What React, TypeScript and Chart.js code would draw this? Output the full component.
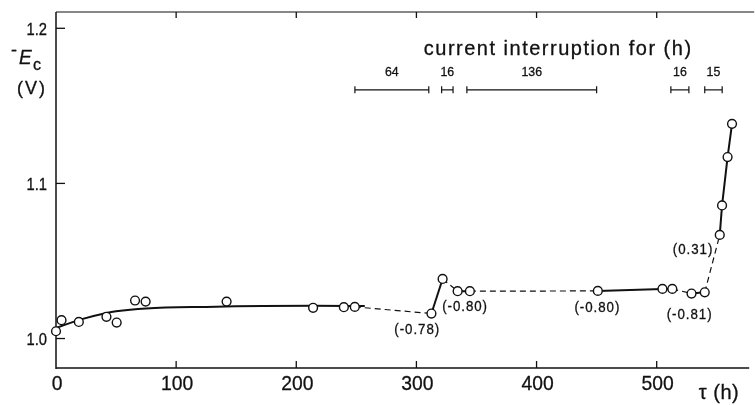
import React, { useEffect, useRef } from "react";
import { Chart, registerables } from "chart.js";

Chart.register(...registerables);

// measured points: time (h) and -E_c (V)
const tauH = [0, 4.6, 19, 42, 50.5, 65.8, 74.6, 142, 214, 239.6, 248.7, 312.5, 321.8, 334.3, 344.5, 451, 504.8, 513, 529, 540, 552.5, 554.4, 559, 562.7];
const minusEc = [1.0047, 1.0118, 1.0107, 1.014, 1.0103, 1.0245, 1.0238, 1.0238, 1.0198, 1.0202, 1.0204, 1.0161, 1.0384, 1.0305, 1.0305, 1.0307, 1.032, 1.032, 1.029, 1.0298, 1.0668, 1.0858, 1.117, 1.1384];

// smooth fitted curve over the first 250 h
const fitTau = [0, 20, 42, 50, 75, 125, 214, 257];
const fitE = [1.0068, 1.0122, 1.0165, 1.0176, 1.0194, 1.0204, 1.0211, 1.0209];

// connecting line from point index 10 onward; dashed = during current interruption
const linkStart = 10;
const linkDashed = [true, false, true, false, true, false, false, true, false, true, false, false, false];

// axes
const xTicks = [0, 100, 200, 300, 400, 500];
const xTickLabels = ["0", "100", "200", "300", "400", "500"];
const yTicks = [1.0, 1.1, 1.2];
const yTickLabels = ["1.0", "1.1", "1.2"];

// current interruption bars
const barFrom = [248.8, 321, 342, 511.8, 540];
const barTo = [310.3, 330.5, 450, 526.8, 554.5];
const barHours = ["64", "16", "136", "16", "15"];
const barLevel = 1.1603;
const barLabelLevel = 1.1713;
const headerText = "current interruption for (h)";
const headerTau = 418;
const headerLevel = 1.1861;

// potential notes
const noteTau = [300.7, 340.5, 450.6, 527.4, 530.3];
const noteE = [1.0052, 1.0203, 1.0199, 1.0151, 1.0573];
const noteText = ["(-0.78)", "(-0.80)", "(-0.80)", "(-0.81)", "(0.31)"];

const INK = "#111";
const FONT = "'Liberation Sans', Arial, sans-serif";

function txt(ctx: CanvasRenderingContext2D, s: string, x: number, y: number, size: number, align: CanvasTextAlign, sx = 1, spacing = 0, italic = false) {
  ctx.save();
  ctx.font = `${italic ? "italic " : ""}${size}px ${FONT}`;
  (ctx as any).letterSpacing = `${spacing}px`;
  ctx.textBaseline = "middle";
  ctx.fillStyle = INK;
  ctx.strokeStyle = INK;
  ctx.lineWidth = 0.3;
  ctx.translate(x, y);
  ctx.scale(sx, 1);
  ctx.textAlign = align;
  ctx.fillText(s, 0, 0);
  ctx.strokeText(s, 0, 0);
  ctx.restore();
}

function seg(ctx: CanvasRenderingContext2D, x1: number, y1: number, x2: number, y2: number) {
  ctx.beginPath();
  ctx.moveTo(x1, y1);
  ctx.lineTo(x2, y2);
  ctx.stroke();
}

const overlay = {
  id: "overlay",
  beforeDatasetsDraw(chart: any) {
    const { ctx, chartArea: a, scales } = chart;
    const x = scales.x;
    const y = scales.y;
    ctx.save();
    ctx.strokeStyle = INK;
    ctx.lineWidth = 1.5;
    seg(ctx, a.left, a.top, a.left, a.bottom + 1);
    seg(ctx, a.left, a.bottom, a.right, a.bottom);
    ctx.lineWidth = 1.2;
    seg(ctx, a.left, a.top, a.right + 5, a.top);
    ctx.lineWidth = 1.3;
    xTicks.forEach((t) => {
      if (t === 0) return;
      const px = x.getPixelForValue(t);
      seg(ctx, px, a.bottom, px, a.bottom - 7);
      seg(ctx, px, a.top, px, a.top + 6);
    });
    yTicks.forEach((t) => {
      const py = y.getPixelForValue(t);
      seg(ctx, a.left, py, a.left + 9, py);
    });
    ctx.restore();
  },
  afterDatasetsDraw(chart: any) {
    const { ctx, chartArea: a, scales } = chart;
    const x = scales.x;
    const y = scales.y;
    ctx.save();
    // tick labels
    xTicks.forEach((t, i) => {
      txt(ctx, xTickLabels[i], x.getPixelForValue(t) + 1, a.bottom + 16, 21, "center", 0.92);
    });
    yTicks.forEach((t, i) => {
      txt(ctx, yTickLabels[i], 47, y.getPixelForValue(t) + 2, 16, "right", 0.92);
    });
    // axis titles
    txt(ctx, "-", 11, 51, 18, "left");
    txt(ctx, "E", 19, 58, 20, "left", 0.95, 0, true);
    txt(ctx, "c", 33, 66, 16, "left");
    txt(ctx, "(V)", 17, 89, 18, "left", 1, 2);
    txt(ctx, "τ (h)", 719, 393, 20, "center", 1, 0.5);
    // interruption header and bars
    txt(ctx, headerText, x.getPixelForValue(headerTau), y.getPixelForValue(headerLevel), 20, "center", 1, 1.5);
    ctx.strokeStyle = INK;
    ctx.lineWidth = 1.2;
    const by = y.getPixelForValue(barLevel);
    barFrom.forEach((f, i) => {
      const p1 = x.getPixelForValue(f);
      const p2 = x.getPixelForValue(barTo[i]);
      seg(ctx, p1, by, p2, by);
      seg(ctx, p1, by - 3.5, p1, by + 3.5);
      seg(ctx, p2, by - 3.5, p2, by + 3.5);
      txt(ctx, barHours[i], (p1 + p2) / 2, y.getPixelForValue(barLabelLevel), 13, "center", 0.95);
    });
    // notes
    noteText.forEach((s, i) => {
      txt(ctx, s, x.getPixelForValue(noteTau[i]), y.getPixelForValue(noteE[i]), 14, "center", 0.95, 1);
    });
    ctx.restore();
  },
};

export default function App() {
  const ref = useRef<HTMLCanvasElement | null>(null);
  useEffect(() => {
    document.body.style.margin = "0";
    const canvas = ref.current;
    if (!canvas) return;
    const points = tauH.map((t, i) => ({ x: t, y: minusEc[i] }));
    const fit = fitTau.map((t, i) => ({ x: t, y: fitE[i] }));
    const link = points.slice(linkStart);
    const chart = new Chart(canvas, {
      type: "line",
      data: {
        datasets: [
          {
            data: points,
            showLine: false,
            pointRadius: 4.4,
            pointBackgroundColor: "#fff",
            pointBorderColor: INK,
            pointBorderWidth: 1.4,
            clip: false,
            order: 0,
          } as any,
          {
            data: fit,
            borderColor: INK,
            borderWidth: 2,
            pointRadius: 0,
            cubicInterpolationMode: "monotone",
            order: 1,
          } as any,
          {
            data: link,
            borderColor: INK,
            borderWidth: 2,
            pointRadius: 0,
            tension: 0,
            order: 2,
            segment: {
              borderDash: (c: any) => (linkDashed[c.p0DataIndex] ? [6, 4] : []),
              borderWidth: (c: any) => (linkDashed[c.p0DataIndex] ? 1.2 : 2),
            },
          } as any,
        ],
      },
      options: {
        responsive: false,
        maintainAspectRatio: false,
        devicePixelRatio: 1,
        animation: false,
        layout: { padding: { left: 56, top: 12, right: 5, bottom: 37 } },
        plugins: { legend: { display: false }, tooltip: { enabled: false } },
        scales: {
          x: { type: "linear", min: 0, max: 577, display: false },
          y: { type: "linear", min: 0.981, max: 1.2105, display: false },
        },
      },
      plugins: [overlay],
    });
    return () => chart.destroy();
  }, []);
  return (
    <div style={{ width: 755, height: 405, background: "#fff" }}>
      <canvas ref={ref} width={755} height={405} style={{ display: "block", width: 755, height: 405 }} />
    </div>
  );
}
